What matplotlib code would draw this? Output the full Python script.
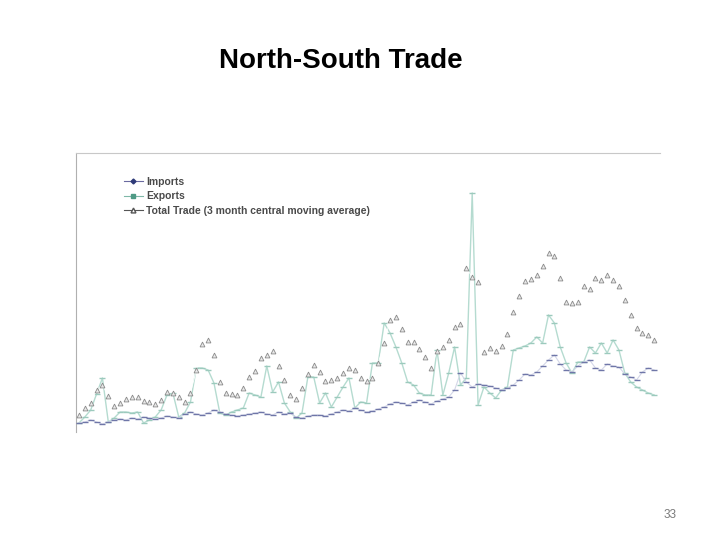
import matplotlib
matplotlib.use("Agg")
import matplotlib.pyplot as plt
from matplotlib.lines import Line2D

plt.rcParams['font.family'] = ['Liberation Sans', 'DejaVu Sans']

months = list(range(99))

imports = [9, 10, 12, 10, 8, 10, 12, 13, 12, 14, 13, 15, 14, 13, 14, 16, 15, 14, 18, 20,
           18, 17, 19, 22, 20, 18, 17, 16, 17, 18, 19, 20, 18, 17, 20, 18, 19, 15, 14, 16,
           17, 17, 16, 18, 20, 22, 21, 24, 22, 20, 21, 23, 25, 28, 30, 29, 27, 30, 32, 30,
           28, 31, 33, 35, 42, 59, 50, 45, 48, 47, 46, 44, 42, 44, 47, 52, 58, 57, 60, 66,
           72, 77, 68, 62, 60, 66, 70, 72, 64, 62, 68, 66, 65, 58, 55, 52, 60, 64, 62]

exports = [9, 15, 22, 38, 54, 10, 14, 20, 20, 19, 20, 9, 12, 15, 22, 37, 39, 15, 19, 30,
           64, 64, 62, 49, 19, 17, 20, 22, 24, 39, 37, 35, 66, 40, 50, 29, 20, 14, 19, 55,
           55, 29, 39, 25, 35, 45, 54, 24, 30, 29, 69, 69, 109, 99, 85, 69, 50, 47, 39, 37,
           37, 82, 37, 59, 85, 47, 54, 239, 27, 45, 39, 34, 42, 45, 82, 84, 86, 89, 95, 89,
           117, 109, 85, 69, 59, 70, 70, 85, 79, 89, 79, 92, 82, 59, 50, 45, 42, 39, 37]

total_ma = [17, 24, 29, 42, 47, 36, 26, 29, 33, 35, 35, 31, 30, 28, 32, 40, 39, 35, 30, 39,
            62, 88, 92, 77, 50, 39, 38, 37, 44, 55, 61, 74, 77, 81, 66, 52, 37, 33, 44, 58,
            67, 60, 51, 52, 54, 59, 64, 62, 54, 51, 54, 69, 89, 112, 115, 103, 90, 90, 83, 75,
            64, 81, 85, 92, 105, 108, 164, 155, 150, 80, 84, 81, 86, 98, 120, 136, 151, 153, 157, 166,
            179, 176, 154, 130, 129, 130, 146, 143, 154, 152, 157, 152, 146, 132, 117, 104, 99, 97, 92]

series_labels = ["Imports", "Exports", "Total Trade (3 month central moving average)"]

fig = plt.figure(figsize=(7.2, 5.4), dpi=100)
fig.patch.set_facecolor('white')

fig.text(0.474, 0.887, "North-South Trade", ha='center', va='center',
         fontsize=20, fontweight='bold', color='black')

ax = fig.add_axes([0.1056, 0.2, 0.8111, 0.5167])
ax.plot(months, imports, color='#d4d7e8', lw=0.8, marker='_', ms=4, mew=1.0,
        mec='#6f76a8', label=series_labels[0], zorder=3)
ax.plot(months, exports, color='#b5dbd0', lw=1.0, marker='_', ms=4, mew=1.0,
        mec='#9ccabd', label=series_labels[1], zorder=2)
ax.plot(months, total_ma, color='#ffffff', lw=0.6, marker='^', ms=3.5,
        mfc='#e8e8e8', mec='#8a8a8a', mew=0.6, label=series_labels[2], zorder=4)

ax.set_xlim(-0.5, 99)
ax.set_ylim(0, 279)
for s in ['right', 'bottom']:
    ax.spines[s].set_visible(False)
ax.spines['left'].set_color('#b0b0b0')
ax.spines['top'].set_color('#c8c8c8')
ax.set_xticks([])
ax.set_yticks([])

handles = [
    Line2D([], [], color='#6a6aa0', lw=0.8, marker='D', ms=2.5, mfc='#2e3a78', mec='#2e3a78'),
    Line2D([], [], color='#7fb8a8', lw=0.8, marker='s', ms=3, mfc='#4f9a85', mec='#4f9a85'),
    Line2D([], [], color='#555555', lw=0.8, marker='^', ms=3.5, mfc='white', mec='#555555'),
]
leg = ax.legend(handles, series_labels, loc='upper left', bbox_to_anchor=(0.075, 0.93),
                frameon=False, fontsize=7.5, handlelength=1.8, handletextpad=0.3,
                labelspacing=0.45, borderaxespad=0)
for t in leg.get_texts():
    t.set_color('#4a4a4a')
    t.set_fontweight('bold')

fig.text(0.93, 0.047, "33", ha='center', va='center', fontsize=8.5, color='#7a7a7a')

fig.savefig("out.png", dpi=100, facecolor='white')
